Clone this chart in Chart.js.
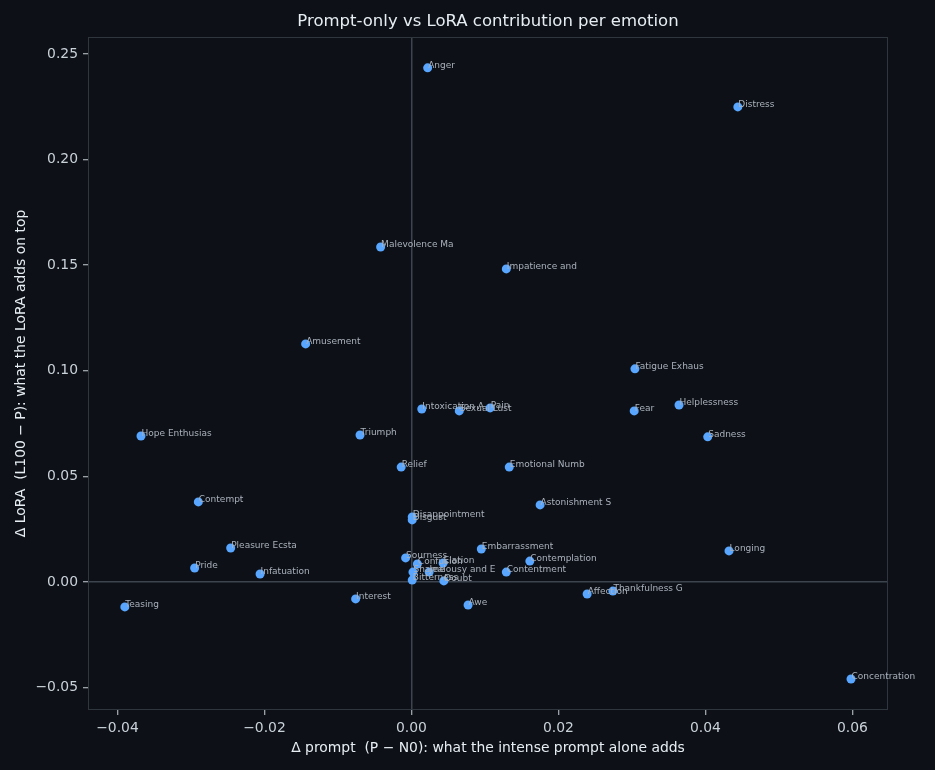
<!DOCTYPE html>
<html>
<head>
<meta charset="utf-8">
<script src="https://cdn.jsdelivr.net/npm/chart.js@4.4.1/dist/chart.umd.min.js"></script>
<style>
  html, body { margin: 0; padding: 0; background: #0d1117; }
  #wrap { width: 935px; height: 770px; }
</style>
</head>
<body>
<div id="wrap"><canvas id="emotion-chart" width="935" height="770"></canvas></div>
<script>
// emotion labels (truncated to 14 chars like the source figure)
const emotions = [
  "Anger", "Distress", "Malevolence Ma", "Impatience and", "Amusement",
  "Fatigue Exhaus", "Intoxication A", "Sexual Lust", "Pain", "Fear",
  "Helplessness", "Hope Enthusias", "Triumph", "Sadness", "Relief",
  "Emotional Numb", "Astonishment S", "Contempt", "Disappointment", "Disgust",
  "Embarrassment", "Pleasure Ecsta", "Longing", "Contemplation", "Sourness",
  "Confusion", "Elation", "Pride", "Infatuation", "Shame",
  "Jealousy and E", "Bitterness", "Doubt", "Contentment", "Interest",
  "Awe", "Affection", "Thankfulness G", "Teasing", "Concentration"
];
// Δ prompt (P − N0)
const promptDelta = [
  0.0022, 0.0444, -0.0042, 0.0129, -0.0144,
  0.0304, 0.0014, 0.0065, 0.0107, 0.0303,
  0.0364, -0.0368, -0.0070, 0.0403, -0.0014,
  0.0133, 0.0175, -0.0290, 0.0001, 0.0001,
  0.0095, -0.0246, 0.0432, 0.0161, -0.0008,
  0.0008, 0.0043, -0.0295, -0.0206, 0.0002,
  0.0024, 0.0001, 0.0044, 0.0129, -0.0076,
  0.0077, 0.0239, 0.0274, -0.0390, 0.0598
];
// Δ LoRA (L100 − P)
const loraDelta = [
  0.2434, 0.2249, 0.1586, 0.1482, 0.1127,
  0.1009, 0.0819, 0.0810, 0.0824, 0.0810,
  0.0838, 0.0691, 0.0696, 0.0687, 0.0544,
  0.0544, 0.0365, 0.0379, 0.0308, 0.0294,
  0.0156, 0.0161, 0.0147, 0.0099, 0.0114,
  0.0085, 0.0090, 0.0066, 0.0038, 0.0047,
  0.0047, 0.0009, 0.0005, 0.0047, -0.0080,
  -0.0109, -0.0057, -0.0043, -0.0118, -0.0459
];
const xTickVals = [-0.04, -0.02, 0.00, 0.02, 0.04, 0.06];
const yTickVals = [-0.05, 0.00, 0.05, 0.10, 0.15, 0.20, 0.25];
const chartTitle = "Prompt-only vs LoRA contribution per emotion";

const fmt = v => (v < 0 ? "\u2212" : "") + Math.abs(v).toFixed(2);
const zeroLine = c => (Math.abs(c.tick.value) < 1e-9 ? "#3d444d" : "rgba(0,0,0,0)");

const bgPlugin = {
  id: "bg",
  beforeDraw(chart) {
    const ctx = chart.ctx;
    ctx.save();
    ctx.fillStyle = "#0d1117";
    ctx.fillRect(0, 0, chart.width, chart.height);
    ctx.restore();
  }
};

// frame around plot area + title centred over the axes
const framePlugin = {
  id: "frame",
  afterDatasetsDraw(chart) {
    const { ctx, chartArea: a } = chart;
    ctx.save();
    ctx.strokeStyle = "#30363d";
    ctx.lineWidth = 1;
    ctx.strokeRect(a.left + 0.5, a.top + 0.5, a.right - a.left - 1, a.bottom - a.top - 1);
    ctx.font = "16.5px 'DejaVu Sans'";
    ctx.fillStyle = "#e6edf3";
    ctx.textAlign = "center";
    ctx.textBaseline = "middle";
    ctx.fillText(chartTitle, (a.left + a.right) / 2, 22);
    ctx.restore();
  }
};

// text next to each point
const labelPlugin = {
  id: "pointLabels",
  afterDatasetsDraw(chart) {
    const ctx = chart.ctx;
    const meta = chart.getDatasetMeta(0);
    ctx.save();
    ctx.font = "9px 'DejaVu Sans'";
    ctx.fillStyle = "#aab1bb";
    ctx.textAlign = "left";
    ctx.textBaseline = "middle";
    meta.data.forEach((pt, i) => {
      ctx.fillText(emotions[i], pt.x + 0.5, pt.y - 2.5);
    });
    ctx.restore();
  }
};

const points = promptDelta.map((x, i) => ({ x: x, y: loraDelta[i] }));

const chartConfig = {
  type: "scatter",
  data: {
    datasets: [
      {
        label: "emotions",
        data: points,
        pointRadius: 4.5,
        pointHoverRadius: 4.5,
        pointBackgroundColor: "#58a6ff",
        pointBorderWidth: 0,
        borderColor: "#58a6ff",
      },
    ],
  },
  options: {
    responsive: false,
    animation: false,
    devicePixelRatio: 1,
    layout: { padding: { left: 0, right: 47, top: 37, bottom: 0 } },
    plugins: {
      legend: { display: false },
      tooltip: { enabled: false },
      title: { display: false },
    },
    scales: {
      x: {
        type: "linear",
        min: -0.04401,
        max: 0.06483,
        afterBuildTicks: s => { s.ticks = xTickVals.map(v => ({ value: v })); },
        afterFit: s => { s.height = 60; },
        border: { display: false },
        grid: {
          color: zeroLine,
          lineWidth: 1.5,
          tickColor: "#c9d1d9",
          tickLength: 5,
          tickWidth: 1,
        },
        ticks: {
          color: "#c9d1d9",
          font: { family: "'DejaVu Sans'", size: 13.9 },
          padding: 5,
          maxRotation: 0,
          callback: v => fmt(v),
        },
        title: {
          display: true,
          text: "\u0394 prompt  (P \u2212 N0): what the intense prompt alone adds",
          color: "#e6edf3",
          font: { family: "'DejaVu Sans'", size: 13.9 },
          padding: { top: 0, bottom: 13.5 },
        },
      },
      y: {
        type: "linear",
        min: -0.0606,
        max: 0.2580,
        afterBuildTicks: s => { s.ticks = yTickVals.map(v => ({ value: v })); },
        afterFit: s => { s.width = 88; },
        border: { display: false },
        grid: {
          color: zeroLine,
          lineWidth: 1.5,
          tickColor: "#c9d1d9",
          tickLength: 5,
          tickWidth: 1,
        },
        ticks: {
          color: "#c9d1d9",
          font: { family: "'DejaVu Sans'", size: 13.9 },
          padding: 5,
          callback: v => fmt(v),
        },
        title: {
          display: true,
          text: "\u0394 LoRA  (L100 \u2212 P): what the LoRA adds on top",
          color: "#e6edf3",
          font: { family: "'DejaVu Sans'", size: 13.9 },
          padding: { top: 13.5, bottom: 0 },
        },
      },
    },
  },
  plugins: [bgPlugin, framePlugin, labelPlugin],
};

const ctx = document.getElementById("emotion-chart").getContext("2d");
new Chart(ctx, chartConfig);
</script>
</body>
</html>
